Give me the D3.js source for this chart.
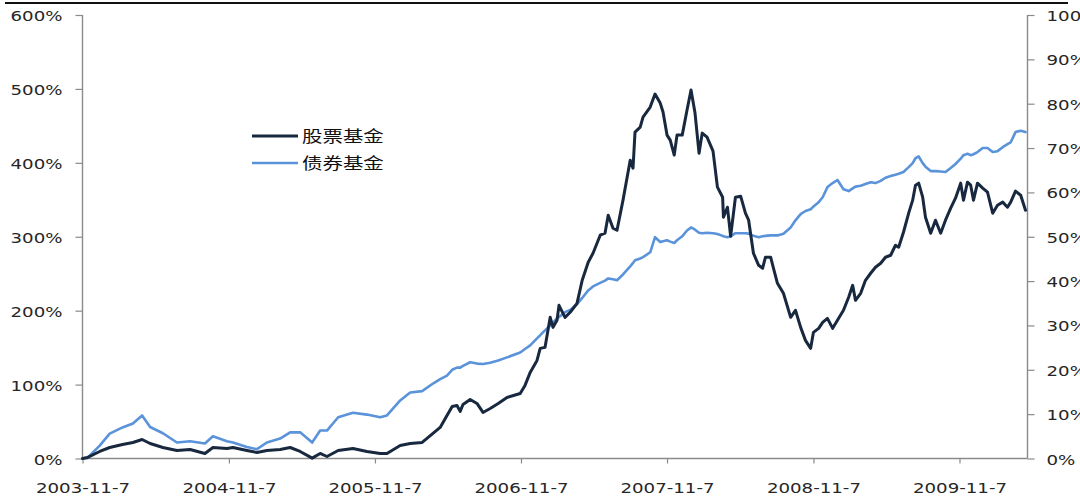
<!DOCTYPE html>
<html>
<head>
<meta charset="utf-8">
<script src="https://cdn.jsdelivr.net/npm/d3@7/dist/d3.min.js"></script>
<style>
html,body{margin:0;padding:0;background:#fff;overflow:hidden;}
svg{display:block;}
</style>
</head>
<body>
<svg id="chart" width="1080" height="504"></svg>
<script>
// ---------------- DATA ----------------
const seriesNames = ["股票基金", "债券基金"];
const xTickLabels = ["2003-11-7","2004-11-7","2005-11-7","2006-11-7","2007-11-7","2008-11-7","2009-11-7"];
const leftTickLabels = ["0%","100%","200%","300%","400%","500%","600%"];
const rightTickLabels = ["0%","10%","20%","30%","40%","50%","60%","70%","80%","90%","100%"];

const dates = [
"2003-11-07","2003-11-20","2003-12-20","2004-01-14","2004-02-15","2004-03-12","2004-04-04","2004-04-24","2004-05-26","2004-06-30",
"2004-08-02","2004-09-08","2004-09-28","2004-11-02","2004-11-17","2004-12-22","2005-01-16","2005-02-10","2005-03-15","2005-04-09",
"2005-05-04","2005-06-03","2005-06-23","2005-07-10","2005-08-07","2005-09-13","2005-10-18","2005-11-20","2005-12-07","2006-01-09",
"2006-02-03","2006-03-05","2006-04-01","2006-04-19","2006-05-06","2006-05-19","2006-05-31","2006-06-08","2006-06-15","2006-07-03",
"2006-07-20","2006-08-04","2006-08-22","2006-09-11","2006-10-03","2006-11-05","2006-11-17","2006-11-30","2006-12-17","2006-12-25",
"2007-01-06","2007-01-19","2007-01-26","2007-02-05","2007-02-10","2007-02-25","2007-03-10","2007-03-27","2007-04-09","2007-04-24",
"2007-05-06","2007-05-24","2007-06-05","2007-06-13","2007-06-25","2007-07-05","2007-07-20","2007-08-07","2007-08-14","2007-08-19",
"2007-09-01","2007-09-08","2007-09-26","2007-10-08","2007-10-21","2007-10-28","2007-11-07","2007-11-15","2007-11-25","2007-12-02",
"2007-12-15","2007-12-27","2008-01-06","2008-01-16","2008-01-26","2008-02-03","2008-02-15","2008-03-01","2008-03-12","2008-03-25",
"2008-03-27","2008-04-06","2008-04-14","2008-04-26","2008-05-09","2008-05-21","2008-05-29","2008-06-10","2008-06-23","2008-07-03",
"2008-07-10","2008-07-23","2008-07-30","2008-08-09","2008-08-24","2008-09-11","2008-09-23","2008-10-06","2008-10-18","2008-10-31",
"2008-11-07","2008-11-20","2008-11-30","2008-12-12","2008-12-25","2009-01-06","2009-01-21","2009-02-03","2009-02-13","2009-02-20",
"2009-03-05","2009-03-17","2009-03-30","2009-04-11","2009-04-24","2009-05-06","2009-05-19","2009-05-31","2009-06-08","2009-06-20",
"2009-07-03","2009-07-13","2009-07-20","2009-07-28","2009-08-07","2009-08-14","2009-08-27","2009-09-08","2009-09-21","2009-10-03",
"2009-10-16","2009-10-28","2009-11-10","2009-11-17","2009-11-27","2009-12-05","2009-12-12","2009-12-22","2010-01-04","2010-01-16",
"2010-01-29","2010-02-10","2010-02-23","2010-03-07","2010-03-15","2010-03-27","2010-04-09","2010-04-21"
];

// 股票基金 cumulative return (%) — left axis
const stockValues = [
0,1.4,9.5,14.9,19.0,21.7,25.7,20.3,14.9,10.8,
12.2,6.8,14.9,13.5,14.9,10.8,8.1,10.8,12.2,14.9,
9.5,0.5,6.8,2.7,10.8,13.5,9.5,6.8,6.8,17.6,
20.3,21.7,33.9,42.0,58.2,70.4,71.8,63.7,73.1,79.9,
74.5,62.3,67.7,74.5,82.6,88.0,98.9,116.5,132.7,149.0,
150.3,191.0,177.4,186.9,207.2,191.0,197.8,209.9,241.1,265.5,
277.7,302.1,304.8,329.1,311.5,308.8,349.5,403.6,392.8,441.6,
448.3,461.9,475.4,493.0,480.8,468.7,437.5,430.7,410.4,437.5,
437.5,471.4,498.5,467.3,413.1,440.2,434.8,415.8,367.1,353.5,
326.4,340.0,300.7,353.5,354.9,331.9,322.4,277.7,261.4,257.4,
272.3,272.3,257.4,237.0,223.5,191.0,200.5,177.4,159.8,149.0,
170.7,176.1,184.2,189.6,176.1,186.9,200.5,218.1,234.3,214.0,
223.5,241.1,250.6,258.7,264.1,272.3,275.0,288.5,285.8,306.1,
331.9,349.5,369.8,372.5,353.5,326.4,304.8,322.4,304.8,322.4,
338.6,352.2,372.5,349.5,373.8,369.8,349.5,372.5,365.7,360.3,
331.9,342.7,346.8,340.0,346.8,361.7,356.2,335.9
];

// 债券基金 cumulative return (%) — right axis
const bondValues = [
0,0.2,2.9,5.6,7.0,7.9,9.7,7.1,5.7,3.6,
3.9,3.4,5.0,3.9,3.6,2.6,2.1,3.6,4.5,5.9,
5.9,3.6,6.3,6.3,9.3,10.3,9.9,9.3,9.7,13.1,
14.9,15.2,16.9,17.9,18.7,20.0,20.5,20.5,20.9,21.7,
21.4,21.3,21.6,22.1,22.8,23.9,24.7,25.5,27.1,27.8,
28.9,30.0,30.7,31.6,31.9,33.0,33.5,34.8,36.2,37.9,
38.8,39.6,40.1,40.6,40.4,40.2,41.5,43.3,44.1,44.7,
45.1,45.4,46.5,49.9,48.8,49.0,49.2,48.9,48.6,49.2,
50.1,51.4,52.1,51.6,50.9,50.8,50.9,50.8,50.6,50.2,
50.1,49.9,50.1,50.8,50.8,50.8,50.7,50.2,49.9,50.1,
50.2,50.3,50.3,50.3,50.7,52.1,53.7,55.1,55.8,56.2,
56.8,57.8,58.9,61.2,62.1,62.8,60.7,60.3,60.9,61.3,
61.5,61.9,62.3,62.1,62.6,63.3,63.7,64.0,64.2,64.6,
65.7,66.6,67.7,68.1,66.6,65.8,64.8,64.8,64.7,64.6,
65.5,66.4,67.6,68.4,68.7,68.4,68.6,69.1,70.0,70.0,
69.1,69.3,70.2,70.9,71.3,73.6,73.9,73.6
];

const xDomainEnd = "2010-04-26";

// ---------------- CHART ----------------
const parse = d3.timeParse("%Y-%m-%d");
const parseTick = d3.timeParse("%Y-%m-%e");
const svg = d3.select("#chart");

const plot = {left: 82.5, right: 1027.5, top: 15, bottom: 458.5};
const COLOR_STOCK = "#18283F";
const COLOR_BOND = "#5A93DA";
const AXIS = "#8a8a8a";
const FONT = "'DejaVu Sans', Verdana, sans-serif";
const SX = 1.3; // horizontal stretch of the reference lettering

const x = d3.scaleTime()
  .domain([parse(dates[0]), parse(xDomainEnd)])
  .range([plot.left, plot.right]);
const yL = d3.scaleLinear().domain([0, 6]).range([plot.bottom, plot.top]);
const yR = d3.scaleLinear().domain([0, 1]).range([plot.bottom, plot.top]);

// top rule
svg.append("line").attr("x1", 5).attr("x2", 1068).attr("y1", 3).attr("y2", 3)
  .attr("stroke", "#111").attr("stroke-width", 2);

// axes
const xTicks = xTickLabels.map(s => parseTick(s));
const xAxis = d3.axisBottom(x).tickValues(xTicks).tickSize(5).tickFormat((d, i) => xTickLabels[i]);
const gx = svg.append("g").attr("transform", `translate(0,${plot.bottom})`).call(xAxis);

const leftVals = leftTickLabels.map(s => parseFloat(s) / 100);
const yAxisL = d3.axisLeft(yL).tickValues(leftVals).tickSize(7).tickFormat((d, i) => leftTickLabels[i]);
const gyl = svg.append("g").attr("transform", `translate(${plot.left},0)`).call(yAxisL);

const rightVals = rightTickLabels.map(s => parseFloat(s) / 100);
const yAxisR = d3.axisRight(yR).tickValues(rightVals).tickSize(7).tickFormat((d, i) => rightTickLabels[i]);
const gyr = svg.append("g").attr("transform", `translate(${plot.right},0)`).call(yAxisR);

[gx, gyl, gyr].forEach(g => {
  g.select(".domain").attr("stroke", AXIS).attr("stroke-width", 1.4);
  g.selectAll(".tick line").attr("stroke", AXIS).attr("stroke-width", 1.2);
  g.selectAll(".tick text").attr("fill", "#262626")
    .style("font-family", FONT).style("font-size", "14px");
});
// remove outer end-caps of domain paths by redrawing as plain lines
gx.select(".domain").attr("d", `M${plot.left},0H${plot.right}`);
gyl.select(".domain").attr("d", `M0,${plot.top}V${plot.bottom}`);
gyr.select(".domain").attr("d", `M0,${plot.top}V${plot.bottom}`);

gx.selectAll(".tick text").attr("y", null).attr("dy", null)
  .attr("transform", `translate(0,34) scale(${SX},1)`);
gyl.selectAll(".tick text").attr("x", null).attr("dy", null)
  .attr("transform", `translate(-20,5.5) scale(${SX},1)`);
gyr.selectAll(".tick text").attr("x", null).attr("dy", null)
  .attr("text-anchor", "start")
  .attr("transform", `translate(19,5.5) scale(${SX},1)`);

// lines
const data = dates.map((d, i) => ({date: parse(d), stock: stockValues[i] / 100, bond: bondValues[i] / 100}));

const lineBond = d3.line().x(d => x(d.date)).y(d => yR(d.bond));
const lineStock = d3.line().x(d => x(d.date)).y(d => yL(d.stock));

svg.append("path").datum(data).attr("d", lineBond)
  .attr("fill", "none").attr("stroke", COLOR_BOND).attr("stroke-width", 2.6)
  .attr("stroke-linejoin", "round").attr("stroke-linecap", "round");
svg.append("path").datum(data).attr("d", lineStock)
  .attr("fill", "none").attr("stroke", COLOR_STOCK).attr("stroke-width", 3)
  .attr("stroke-linejoin", "round").attr("stroke-linecap", "round");

// legend
const legend = svg.append("g");
const legendColors = [COLOR_STOCK, COLOR_BOND];
const legendY = [136, 163];
seriesNames.forEach((name, i) => {
  legend.append("line").attr("x1", 252).attr("x2", 298)
    .attr("y1", legendY[i]).attr("y2", legendY[i])
    .attr("stroke", legendColors[i]).attr("stroke-width", i === 0 ? 3 : 2.6);
  legend.append("text")
    .attr("transform", `translate(302,${legendY[i] + 6}) scale(1.32,1)`)
    .attr("fill", "#111")
    .style("font-family", "'Noto Sans CJK SC', sans-serif")
    .style("font-size", "15.5px")
    .text(name);
});
</script>
</body>
</html>
